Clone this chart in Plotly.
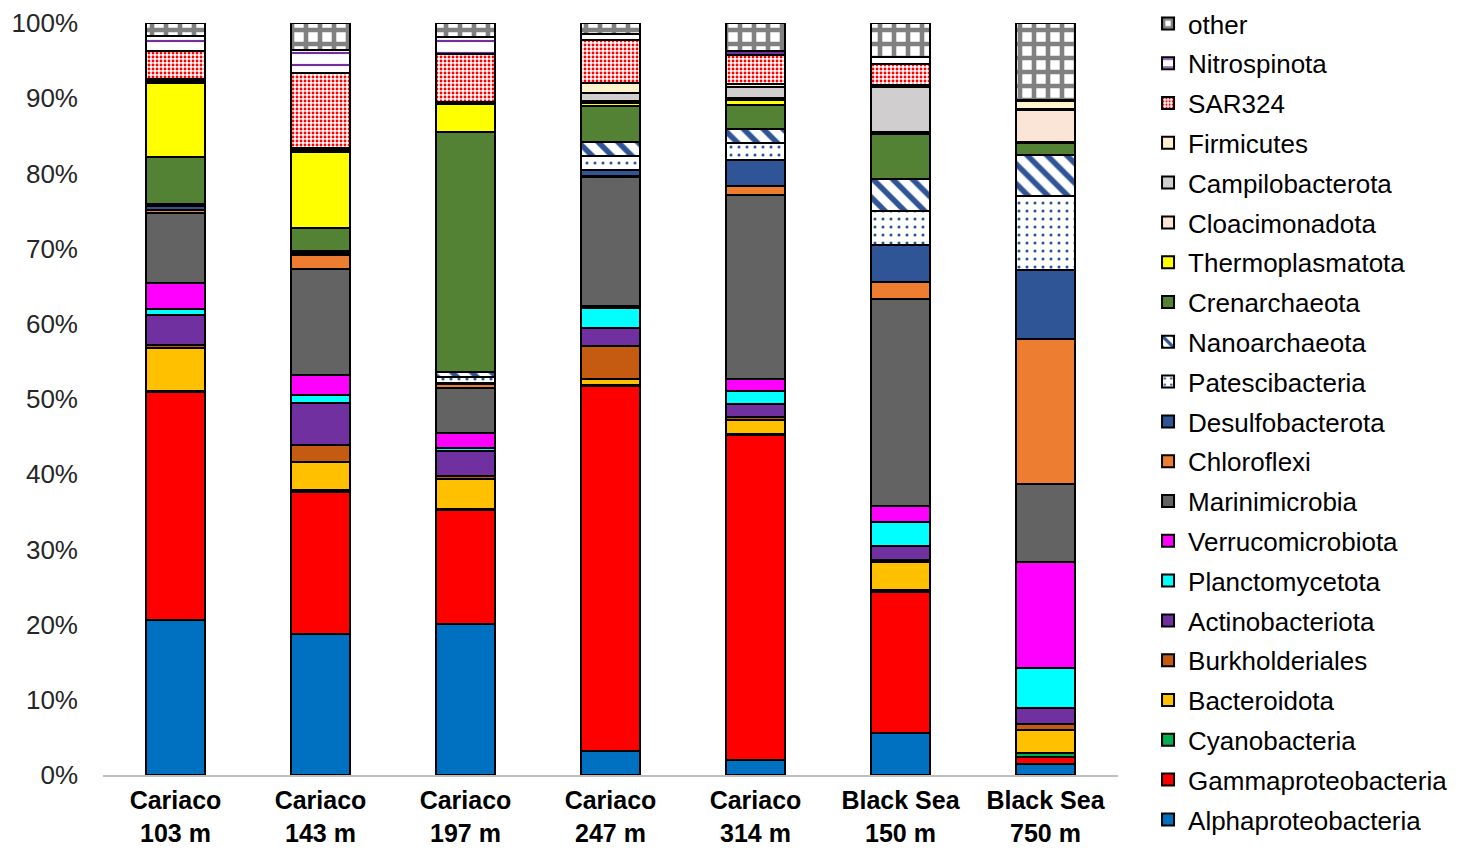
import plotly.graph_objects as go

# Sampling sites (x categories)
sites = ["Cariaco<br>103 m", "Cariaco<br>143 m", "Cariaco<br>197 m", "Cariaco<br>247 m",
         "Cariaco<br>314 m", "Black Sea<br>150 m", "Black Sea<br>750 m"]

# Relative abundance (% of reads) per taxon, one value per site
alphaproteobacteria = [20.6, 18.8, 20.1, 3.2, 2.0, 5.6, 1.5]
gammaproteobacteria = [30.3, 18.8, 15.1, 48.5, 43.2, 18.8, 0.9]
cyanobacteria       = [0.2, 0.3, 0.2, 0.2, 0.2, 0.2, 0.5]
bacteroidota        = [5.7, 3.7, 4.0, 0.8, 1.8, 3.7, 3.1]
burkholderiales     = [0.4, 2.3, 0.3, 4.3, 0.4, 0.3, 0.8]
actinobacteriota    = [4.0, 5.6, 3.4, 2.4, 1.7, 1.9, 2.1]
planctomycetota     = [0.8, 1.0, 0.4, 2.7, 1.8, 3.1, 5.3]
verrucomicrobiota   = [3.4, 2.7, 2.0, 0.3, 1.6, 2.2, 14.1]
marinimicrobia      = [9.3, 14.1, 6.0, 17.1, 24.4, 27.5, 10.4]
chloroflexi         = [0.4, 1.8, 0.5, 0.2, 1.2, 2.3, 19.3]
desulfobacterota    = [0.6, 0.2, 0.1, 0.8, 3.5, 4.9, 9.2]
patescibacteria     = [0.1, 0.2, 0.8, 1.8, 2.2, 4.5, 9.8]
nanoarchaeota       = [0.1, 0.2, 0.7, 1.9, 1.9, 4.3, 5.4]
crenarchaeota       = [6.3, 3.0, 31.9, 4.8, 3.2, 5.9, 1.6]
thermoplasmatota    = [9.8, 10.1, 3.7, 0.4, 0.7, 0.2, 0.2]
cloacimonadota      = [0.2, 0.2, 0.1, 0.2, 0.2, 0.1, 4.2]
campilobacterota    = [0.2, 0.2, 0.1, 1.1, 1.5, 6.0, 0.2]
firmicutes          = [0.2, 0.2, 0.1, 1.3, 0.4, 0.3, 1.0]
sar324              = [3.7, 10.0, 6.4, 5.7, 3.8, 2.7, 0.1]
nitrospinota        = [2.0, 3.0, 2.2, 0.8, 0.6, 1.0, 0.1]
other               = [1.7, 3.6, 1.9, 1.5, 3.7, 4.5, 10.2]

y_ticks = [0, 10, 20, 30, 40, 50, 60, 70, 80, 90, 100]
y_tick_labels = ["0%", "10%", "20%", "30%", "40%", "50%", "60%", "70%", "80%", "90%", "100%"]

# Stack order, bottom to top
series = [
    ("Alphaproteobacteria", alphaproteobacteria),
    ("Gammaproteobacteria", gammaproteobacteria),
    ("Cyanobacteria", cyanobacteria),
    ("Bacteroidota", bacteroidota),
    ("Burkholderiales", burkholderiales),
    ("Actinobacteriota", actinobacteriota),
    ("Planctomycetota", planctomycetota),
    ("Verrucomicrobiota", verrucomicrobiota),
    ("Marinimicrobia", marinimicrobia),
    ("Chloroflexi", chloroflexi),
    ("Desulfobacterota", desulfobacterota),
    ("Patescibacteria", patescibacteria),
    ("Nanoarchaeota", nanoarchaeota),
    ("Crenarchaeota", crenarchaeota),
    ("Thermoplasmatota", thermoplasmatota),
    ("Cloacimonadota", cloacimonadota),
    ("Campilobacterota", campilobacterota),
    ("Firmicutes", firmicutes),
    ("SAR324", sar324),
    ("Nitrospinota", nitrospinota),
    ("other", other),
]

# Fill styles: plain colour, or (pattern shape, foreground, size, solidity)
solid_colors = {
    "Alphaproteobacteria": "#0070C0",
    "Gammaproteobacteria": "#FF0000",
    "Cyanobacteria": "#00B050",
    "Bacteroidota": "#FFC000",
    "Burkholderiales": "#C55A11",
    "Actinobacteriota": "#7030A0",
    "Planctomycetota": "#00FFFF",
    "Verrucomicrobiota": "#FF00FF",
    "Marinimicrobia": "#636363",
    "Chloroflexi": "#ED7D31",
    "Desulfobacterota": "#2F5597",
    "Crenarchaeota": "#548235",
    "Thermoplasmatota": "#FFFF00",
    "Cloacimonadota": "#FBE5D6",
    "Campilobacterota": "#D0CECE",
    "Firmicutes": "#FFF2CC",
}
patterns = {
    "Patescibacteria": (".", "#2F5597", 8, 0.12),
    "Nanoarchaeota": ("\\", "#2F5597", 14, 0.4),
    "SAR324": (".", "#FF0000", 4, 0.4),
    "Nitrospinota": ("-", "#7030A0", 12, 0.18),
    "other": ("+", "#808080", 14, 0.55),
}

n = len(series)
fig = go.Figure()
for i, (name, vals) in enumerate(series):
    marker = dict(line=dict(color="#000000", width=2))
    if name in patterns:
        shape, fg, size, solidity = patterns[name]
        marker["color"] = "#FFFFFF"
        marker["pattern"] = dict(shape=shape, fgcolor=fg, fgopacity=1, size=size,
                                 solidity=solidity, fillmode="overlay")
    else:
        marker["color"] = solid_colors[name]
    fig.add_trace(go.Bar(x=sites, y=vals, name=name, legendgroup=name,
                         legendrank=n - i, marker=marker))

fig.update_layout(
    barmode="stack",
    bargap=0.59,
    width=1468,
    height=850,
    margin=dict(l=103, r=350, t=23, b=75, autoexpand=False),
    paper_bgcolor="white",
    plot_bgcolor="white",
    font=dict(family="Liberation Sans, Arial, sans-serif", size=26, color="#000000"),
    legend=dict(
        x=1.0296, xanchor="left",
        y=1.0306, yanchor="top",
        traceorder="grouped",
        tracegroupgap=3,
        font=dict(size=26, color="#000000"),
        itemwidth=30,
        maxheight=850,
        bgcolor="rgba(0,0,0,0)",
    ),
    showlegend=True,
)
fig.update_xaxes(
    showgrid=False,
    showline=True, linecolor="#BFBFBF", linewidth=2,
    ticks="",
    ticklabelstandoff=2,
    tickfont=dict(size=25, color="#000000", weight="bold"),
)
fig.update_yaxes(
    range=[0, 100],
    tickvals=y_ticks,
    ticktext=y_tick_labels,
    showgrid=False,
    showline=False,
    zeroline=False,
    ticks="",
    ticklabelstandoff=24,
    tickfont=dict(size=26, color="#262626"),
)

fig.write_html("out.html")
